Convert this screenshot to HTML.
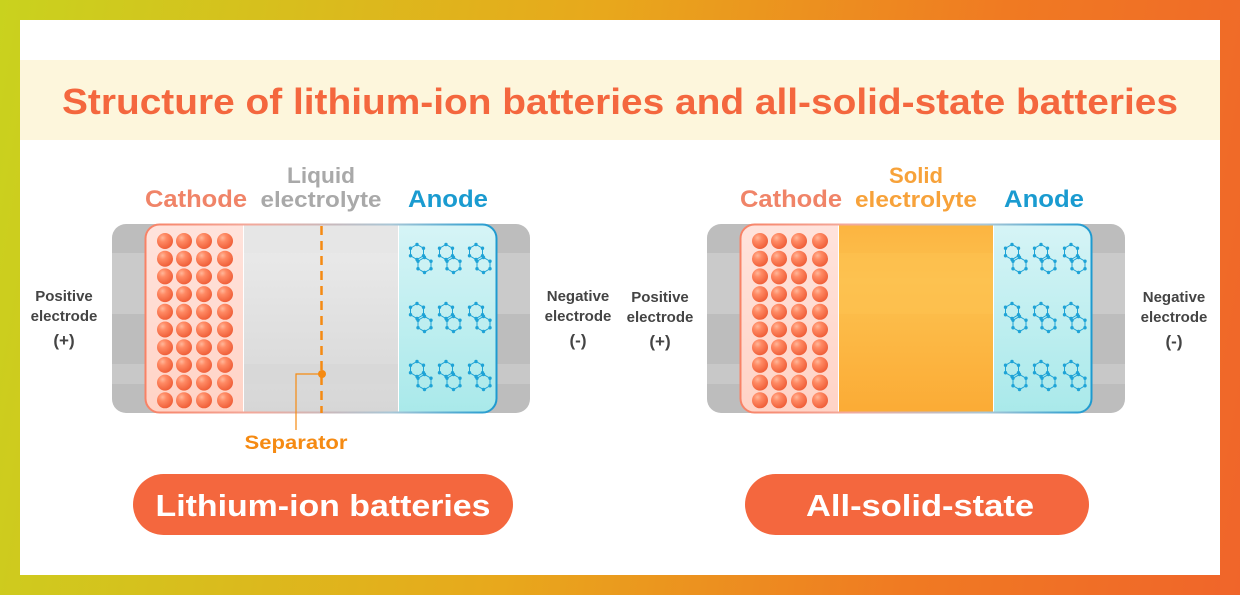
<!DOCTYPE html>
<html><head><meta charset="utf-8"><style>
html,body{margin:0;padding:0}
body{width:1240px;height:595px;overflow:hidden;background:linear-gradient(100deg,#c9d21e 0%,#e8a81c 45%,#f07a22 75%,#f0652a 100%);font-family:"Liberation Sans",sans-serif}
</style></head><body>
<svg id="s" width="1240" height="595" viewBox="0 0 1240 595" xmlns="http://www.w3.org/2000/svg" style="position:absolute;left:0;top:0">
<defs>
<radialGradient id="ball" cx="0.35" cy="0.3" r="0.7">
<stop offset="0" stop-color="#ffb79a"/><stop offset="0.35" stop-color="#ff8a64"/><stop offset="1" stop-color="#f0603a"/></radialGradient>
<linearGradient id="cat" x1="0" y1="0" x2="0" y2="1"><stop offset="0" stop-color="#ffe3dc"/><stop offset="1" stop-color="#ffd3c6"/></linearGradient>
<linearGradient id="an" x1="0" y1="0" x2="0" y2="1"><stop offset="0" stop-color="#d6f4f6"/><stop offset="1" stop-color="#a9e9ea"/></linearGradient>
<linearGradient id="liq" x1="0" y1="0" x2="0" y2="1"><stop offset="0" stop-color="#ececec"/><stop offset="1" stop-color="#d6d6d6"/></linearGradient>
<linearGradient id="sol" x1="0" y1="0" x2="0" y2="1"><stop offset="0" stop-color="#fcb440"/><stop offset="0.3" stop-color="#fdc250"/><stop offset="1" stop-color="#fbab35"/></linearGradient>
</defs>
<rect x="20" y="20" width="1200" height="555" fill="#fff"/>
<rect x="20" y="60" width="1200" height="80" fill="#fdf6dc"/>
<text x="620" y="114" text-anchor="middle" font-size="36" font-weight="bold" fill="#f4673e" textLength="1116" lengthAdjust="spacingAndGlyphs">Structure of lithium-ion batteries and all-solid-state batteries</text>
<g id="b1"></g><g id="b2" transform="translate(595,0)"></g>
<g font-weight="bold" text-anchor="middle" lengthAdjust="spacingAndGlyphs">
<text x="196" y="207" font-size="24" fill="#f08468" textLength="102" lengthAdjust="spacingAndGlyphs">Cathode</text>
<text x="321" y="183" font-size="22" fill="#a9a9a9" textLength="68" lengthAdjust="spacingAndGlyphs">Liquid</text>
<text x="321" y="207" font-size="22" fill="#a9a9a9" textLength="121" lengthAdjust="spacingAndGlyphs">electrolyte</text>
<text x="448" y="207" font-size="24" fill="#1a9bd0" textLength="80" lengthAdjust="spacingAndGlyphs">Anode</text>
<text x="791" y="207" font-size="24" fill="#f08468" textLength="102" lengthAdjust="spacingAndGlyphs">Cathode</text>
<text x="916" y="183" font-size="22" fill="#f7a23a" textLength="54" lengthAdjust="spacingAndGlyphs">Solid</text>
<text x="916" y="207" font-size="22" fill="#f7a23a" textLength="122" lengthAdjust="spacingAndGlyphs">electrolyte</text>
<text x="1044" y="207" font-size="24" fill="#1a9bd0" textLength="80" lengthAdjust="spacingAndGlyphs">Anode</text>
<g font-size="15" fill="#444">
<text x="64" y="301">Positive</text><text x="64" y="321">electrode</text><text x="64" y="346" font-size="17">(+)</text>
<text x="578" y="301">Negative</text><text x="578" y="321">electrode</text><text x="578" y="346" font-size="17">(-)</text>
<text x="660" y="302">Positive</text><text x="660" y="322">electrode</text><text x="660" y="347" font-size="17">(+)</text>
<text x="1174" y="302">Negative</text><text x="1174" y="322">electrode</text><text x="1174" y="347" font-size="17">(-)</text>
</g>
<text x="296" y="449" font-size="19" fill="#f58a12" textLength="103" lengthAdjust="spacingAndGlyphs">Separator</text>
</g>
<rect x="133" y="474" width="380" height="61" rx="30.5" fill="#f4673e"/>
<text x="323" y="516" text-anchor="middle" font-size="31" font-weight="bold" fill="#fff" textLength="335" lengthAdjust="spacingAndGlyphs">Lithium-ion batteries</text>
<rect x="745" y="474" width="344" height="61" rx="30.5" fill="#f4673e"/>
<text x="920" y="516" text-anchor="middle" font-size="31" font-weight="bold" fill="#fff" textLength="228" lengthAdjust="spacingAndGlyphs">All-solid-state</text>
</svg>
<script>
function build(g,solid){
 let h='';
 h+='<clipPath id="c'+solid+'"><rect x="112" y="224" width="418" height="189" rx="14"/></clipPath>';
 h+='<g clip-path="url(#c'+solid+')">';
 h+='<rect x="112" y="224" width="418" height="189" fill="#bdbdbd"/>';
 h+='<rect x="112" y="253" width="418" height="61" fill="#cacaca"/>';
 h+='<rect x="112" y="364" width="418" height="20" fill="#c8c8c8"/>';
 h+='</g>';
 h+='<clipPath id="i'+solid+'"><rect x="145" y="224" width="352" height="189" rx="14"/></clipPath>';
 h+='<g clip-path="url(#i'+solid+')">';
 h+='<rect x="145" y="224" width="99" height="189" fill="url(#cat)"/>';
 h+='<rect x="243" y="224" width="156" height="189" fill="url('+(solid?'#sol':'#liq')+')"/>';
 if(solid){h+='<rect x="243" y="253" width="156" height="61" fill="#fdc250" opacity=".6"/>';}
 else{h+='<rect x="243" y="224" width="156" height="29" fill="#e6e6e6"/><rect x="243" y="364" width="156" height="20" fill="#d8d8d8"/>';}
 h+='<rect x="398" y="224" width="99" height="189" fill="url(#an)"/>';
 h+='<line x1="243.5" y1="224" x2="243.5" y2="413" stroke="#fff" stroke-width="1"/><line x1="398.5" y1="224" x2="398.5" y2="413" stroke="#fff" stroke-width="1"/>';
 h+='</g>';
 h+='<rect x="145.5" y="224.5" width="351" height="188" rx="14" fill="none" stroke="url(#bd)" stroke-width="2"/>';
 const xs=[165,184,204,225];
 for(let r=0;r<10;r++)for(const x of xs){const y=241+r*17.7;h+='<circle cx="'+x+'" cy="'+y+'" r="8" fill="url(#ball)"/>';}
 function hex(cx,cy,R){let p=[];for(let k=0;k<6;k++){const a=Math.PI/180*(60*k+30);p.push([cx+R*Math.cos(a),cy+R*Math.sin(a)]);}
  let s='<polygon points="'+p.map(q=>q.join(',')).join(' ')+'" fill="none" stroke="#1ea3d6" stroke-width="1"/>';
  p.forEach(q=>s+='<circle cx="'+q[0]+'" cy="'+q[1]+'" r="1.7" fill="#1ea3d6"/>');return s;}
 for(const cy of [258,317,375])for(const cx of [421,450,480]){h+=hex(cx-4,cy-6,7.5)+hex(cx+3.5,cy+7,7.5);}
 if(!solid){
  h+='<line x1="321.5" y1="226" x2="321.5" y2="413" stroke="#f58a12" stroke-width="2.5" stroke-dasharray="9,6"/>';
  h+='<polyline points="322,374 296,374 296,430" fill="none" stroke="#f58a12" stroke-width="1.2"/><circle cx="322" cy="374" r="4" fill="#f58a12"/>';
 }
 g.innerHTML=h;
}
const s=document.getElementById('s');
const d=s.querySelector('defs');
d.innerHTML+='<linearGradient id="bd" x1="0" y1="0" x2="1" y2="0"><stop offset="0" stop-color="#f88266"/><stop offset="0.3" stop-color="#f3a89a"/><stop offset="0.7" stop-color="#a8c6d6"/><stop offset="1" stop-color="#1e9ad0"/></linearGradient>';
build(document.getElementById('b1'),0);
build(document.getElementById('b2'),1);
</script>
</body></html>
